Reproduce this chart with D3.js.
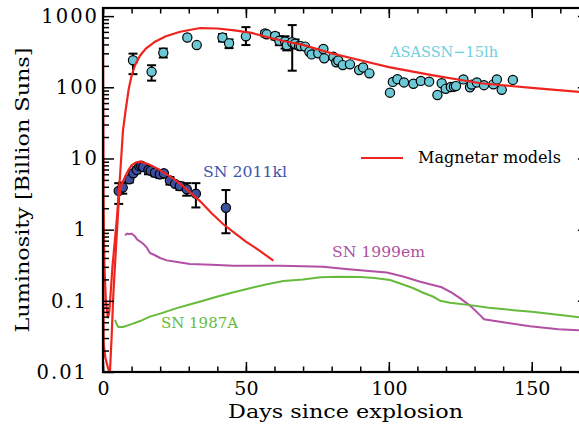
<!DOCTYPE html>
<html>
<head>
<meta charset="utf-8">
<script src="https://cdn.jsdelivr.net/npm/d3@7"></script>
<style>
  body { margin: 0; background: #fff; }
  svg { display: block; }
  text { font-family: "DejaVu Serif", serif; }
  .axis path { display: none; }
  .axis line { stroke: #000; stroke-width: 1.5; }
</style>
</head>
<body>
<svg id="chart" width="579" height="427"></svg>
<script>
// [day, luminosity, errLow, errHigh]
const asassnPoints = [
  [10.5, 240, 153, 297], [17.0, 165, 124, 204], [21.1, 305, 262, 350], [29.5, 500],
  [32.8, 392], [41.8, 500, 440, 560], [44.1, 414, 355, 470], [50.0, 520, 392, 700],
  [56.7, 571, 520, 620], [57.3, 555], [60.2, 525, 470, 580], [61.7, 450, 390, 520],
  [63.7, 440, 350, 520], [64.3, 390, 330, 460], [66.2, 430, 171, 748], [67.2, 410, 350, 470],
  [68.6, 380], [69.2, 379], [70.7, 373], [72.2, 315], [73.0, 290], [75.3, 300],
  [77.1, 345], [77.4, 255], [80.6, 268], [81.6, 225], [82.3, 238], [83.9, 205],
  [86.4, 210], [89.6, 175], [91.0, 190], [93.2, 157], [100.4, 84], [101.4, 119],
  [103.0, 130], [105.3, 117], [108.6, 112], [111.2, 123], [114.1, 120], [117.0, 78],
  [118.5, 114], [119.9, 95], [121.7, 101], [122.8, 102], [123.5, 104], [126.1, 129],
  [128.4, 100], [129.0, 109], [130.8, 117], [133.3, 107], [136.6, 110], [137.8, 129],
  [139.5, 92], [143.4, 127]
];

const sn2011klPoints = [
  [5.5, 3.5, 2.3, 4.5], [6.9, 3.9, 3.2, 4.6], [9.2, 5.1, 4.6, 5.6], [10.6, 6.2],
  [11.8, 6.9, 6.2, 7.5], [12.7, 7.8], [13.4, 7.9], [14.1, 7.6, 6.8, 8.3],
  [15.9, 6.9, 6.0, 7.6], [16.7, 6.7], [18.2, 6.3, 5.6, 7.0], [19.9, 6.0, 5.3, 6.8],
  [21.3, 6.2], [23.4, 4.9, 4.3, 5.5], [25.2, 4.4], [26.9, 4.1, 3.6, 4.6],
  [29.3, 3.7, 3.0, 4.5], [32.5, 3.2, 2.05, 4.5], [43.0, 2.03, 0.89, 3.6]
];

// [day, luminosity]
const modelAsassn = [
  [0, 460], [0.05, 50], [0.2, 2], [0.5, 0.3], [1.0, 0.1], [1.7, 0.057], [2.2, 0.07],
  [2.8, 0.15], [3.3, 0.3], [3.85, 0.52], [4.9, 1.5], [6, 6], [7, 25], [8, 50], [9, 95],
  [10, 145], [11.2, 204], [13, 280], [15, 350], [18.2, 437], [22, 520], [27, 604],
  [34, 680], [40, 670], [46, 630], [52, 580], [58, 500], [64, 440], [70, 395],
  [80, 300], [90, 240], [100, 192], [115, 148], [132, 114], [150, 98], [170, 84]
];

const model2011kl = [
  [0, 460], [0.1, 0.3], [0.25, 0.025], [0.8, 0.016], [1.6, 0.012], [2.4, 0.0095],
  [3.0, 0.03], [3.6, 0.12], [4.5, 0.52], [5.6, 2.9], [6.5, 4.3], [7.7, 5.5], [9, 7.0],
  [10, 8.0], [11.5, 8.8], [12.9, 9.0], [16, 8.3], [19, 7.2], [22, 6.1], [25, 5.1],
  [28, 4.1], [31, 3.2], [34, 2.5], [38, 1.7], [42, 1.2], [46, 0.9], [50, 0.68],
  [55, 0.5], [59.6, 0.366]
];

const sn1999em = [
  [7.7, 0.84], [8.5, 0.88], [9.3, 0.86], [10, 0.88], [10.6, 0.84], [11.2, 0.80],
  [11.8, 0.74], [12.5, 0.70], [13.5, 0.66], [14.3, 0.62], [15.3, 0.56], [16.4, 0.47],
  [18, 0.44], [20, 0.40], [22.3, 0.37], [26, 0.35], [30.4, 0.33], [38, 0.32],
  [45.6, 0.31], [55, 0.31], [62, 0.31], [70, 0.305], [77, 0.30], [85, 0.28],
  [92, 0.265], [99.3, 0.25], [105, 0.22], [111, 0.185], [118.5, 0.155], [122, 0.13],
  [125, 0.108], [128.5, 0.085], [131.9, 0.063], [133.3, 0.055], [140, 0.05],
  [149.4, 0.044], [159.3, 0.040], [170, 0.038]
];

const sn1987a = [
  [4.2, 0.054], [5.0, 0.045], [5.4, 0.043], [7, 0.043], [10, 0.047], [13, 0.052],
  [16.4, 0.060], [20, 0.066], [25.8, 0.079], [30, 0.088], [35, 0.10], [39.8, 0.114],
  [45, 0.13], [51.4, 0.15], [57, 0.17], [63.1, 0.19], [70, 0.20], [76, 0.214],
  [83, 0.218], [90, 0.216], [95, 0.21], [100.4, 0.196], [104, 0.175], [108.6, 0.15],
  [112, 0.13], [115.6, 0.114], [118, 0.10], [121.4, 0.094], [128.4, 0.087],
  [135, 0.080], [143.6, 0.074], [150, 0.07], [157.6, 0.065], [163, 0.061], [170, 0.057]
];

const xMajorTicks = [0, 50, 100, 150];
const xMinorTicks = d3.range(0, 171, 10);
const yMajorTicks = [0.01, 0.1, 1, 10, 100, 1000];
const yTickLabels = ["0.01", "0.1", "1", "10", "100", "1000"];

const svg = d3.select("#chart");
const x = d3.scaleLinear().domain([0, 170]).range([103, 588.9]);
const y = d3.scaleLog().domain([0.01, 1300]).range([372, 8]);

const yMinorTicks = [];
[0.01, 0.1, 1, 10, 100, 1000].forEach((base) => {
  for (let k = 2; k <= 9; k += 1) if (base * k <= 1300) yMinorTicks.push(base * k);
});

svg.append("defs").append("clipPath").attr("id", "plotClip")
  .append("rect")
  .attr("x", x(0)).attr("y", y(1300))
  .attr("width", x(170) - x(0)).attr("height", y(0.01) - y(1300));

const plot = svg.append("g").attr("clip-path", "url(#plotClip)");

const line = d3.line().x((d) => x(d[0])).y((d) => y(d[1]));

plot.append("path").datum(sn1999em).attr("fill", "none").attr("stroke", "#b44fa6").attr("stroke-width", 2).attr("d", line);
plot.append("path").datum(sn1987a).attr("fill", "none").attr("stroke", "#66bb3c").attr("stroke-width", 2).attr("d", line);

function drawPoints(points, fill) {
  const withErr = points.filter((d) => d.length === 4);
  const g = plot.append("g").attr("stroke", "#000").attr("stroke-width", 2);
  g.selectAll("line.bar").data(withErr).enter().append("line")
    .attr("x1", (d) => x(d[0])).attr("x2", (d) => x(d[0]))
    .attr("y1", (d) => y(d[2])).attr("y2", (d) => y(d[3]));
  [2, 3].forEach((i) => {
    g.selectAll(`line.cap${i}`).data(withErr).enter().append("line")
      .attr("x1", (d) => x(d[0]) - 4.5).attr("x2", (d) => x(d[0]) + 4.5)
      .attr("y1", (d) => y(d[i])).attr("y2", (d) => y(d[i]));
  });
  plot.append("g").selectAll("circle").data(points).enter().append("circle")
    .attr("cx", (d) => x(d[0])).attr("cy", (d) => y(d[1])).attr("r", 4.6)
    .attr("fill", fill).attr("stroke", "#000").attr("stroke-width", 1.2);
}

drawPoints(asassnPoints, "#6cc8d6");
drawPoints(sn2011klPoints, "#3c4f9e");

plot.append("path").datum(modelAsassn).attr("fill", "none").attr("stroke", "#f0241e").attr("stroke-width", 2.2).attr("d", line);
plot.append("path").datum(model2011kl).attr("fill", "none").attr("stroke", "#f0241e").attr("stroke-width", 2.2).attr("d", line);

// axes, ticks pointing inward on all four sides
const axes = svg.append("g");
axes.append("g").attr("class", "axis").attr("transform", `translate(0,${y(0.01)})`)
  .call(d3.axisBottom(x).tickValues(xMinorTicks).tickSize(-5.5).tickFormat(""));
axes.append("g").attr("class", "axis").attr("transform", `translate(0,${y(0.01)})`)
  .call(d3.axisBottom(x).tickValues(xMajorTicks).tickSize(-10).tickPadding(9.5).tickFormat(d3.format("d")))
  .selectAll("text").attr("font-size", 19).attr("fill", "#000").attr("font-family", "DejaVu Serif");
axes.append("g").attr("class", "axis").attr("transform", `translate(0,${y(1300)})`)
  .call(d3.axisTop(x).tickValues(xMinorTicks).tickSize(-5.5).tickFormat(""));
axes.append("g").attr("class", "axis").attr("transform", `translate(0,${y(1300)})`)
  .call(d3.axisTop(x).tickValues(xMajorTicks).tickSize(-10).tickFormat(""));

axes.append("g").attr("class", "axis").attr("transform", `translate(${x(0)},0)`)
  .call(d3.axisLeft(y).tickValues(yMinorTicks).tickSize(-6).tickFormat(""));
axes.append("g").attr("class", "axis").attr("transform", `translate(${x(0)},0)`)
  .call(d3.axisLeft(y).tickValues(yMajorTicks).tickSize(-11).tickFormat((d, i) => yTickLabels[i]))
  .selectAll("text").attr("font-size", 19.5).attr("fill", "#000").attr("font-family", "DejaVu Serif")
  .attr("letter-spacing", 2)
  .attr("x", (d) => (d >= 10 ? -4 : -15));
axes.append("g").attr("class", "axis").attr("transform", `translate(${x(170)},0)`)
  .call(d3.axisRight(y).tickValues(yMinorTicks).tickSize(-6).tickFormat(""));
axes.append("g").attr("class", "axis").attr("transform", `translate(${x(170)},0)`)
  .call(d3.axisRight(y).tickValues(yMajorTicks).tickSize(-11).tickFormat(""));

axes.append("rect")
  .attr("x", x(0)).attr("y", y(1300))
  .attr("width", x(170) - x(0)).attr("height", y(0.01) - y(1300))
  .attr("fill", "none").attr("stroke", "#000").attr("stroke-width", 2.2);

// axis titles
svg.append("text").attr("x", 228).attr("y", 418).attr("font-size", 19)
  .attr("textLength", 235).attr("lengthAdjust", "spacingAndGlyphs")
  .text("Days since explosion");
svg.append("text").attr("transform", "translate(29,190) rotate(-90)")
  .attr("text-anchor", "middle").attr("font-size", 19)
  .attr("textLength", 285).attr("lengthAdjust", "spacingAndGlyphs")
  .text("Luminosity [Billion Suns]");

// series labels
const labels = [
  { text: "ASASSN−15lh", x: 390, y: 57, w: 108, color: "#6ccfe0" },
  { text: "SN 2011kl", x: 203, y: 177, w: 84, color: "#3c55ad" },
  { text: "SN 1999em", x: 332, y: 257, w: 93, color: "#b04fa2" },
  { text: "SN 1987A", x: 161, y: 328, w: 77, color: "#66bb3c" }
];
labels.forEach((l) => {
  svg.append("text").attr("x", l.x).attr("y", l.y).attr("font-size", 15)
    .attr("fill", l.color).attr("textLength", l.w).attr("lengthAdjust", "spacingAndGlyphs")
    .text(l.text);
});

// legend
svg.append("line").attr("x1", 361).attr("x2", 403).attr("y1", 158).attr("y2", 158)
  .attr("stroke", "#f0241e").attr("stroke-width", 2.2);
svg.append("text").attr("x", 418).attr("y", 163).attr("font-size", 16)
  .attr("textLength", 143).attr("lengthAdjust", "spacingAndGlyphs")
  .text("Magnetar models");
</script>
</body>
</html>
